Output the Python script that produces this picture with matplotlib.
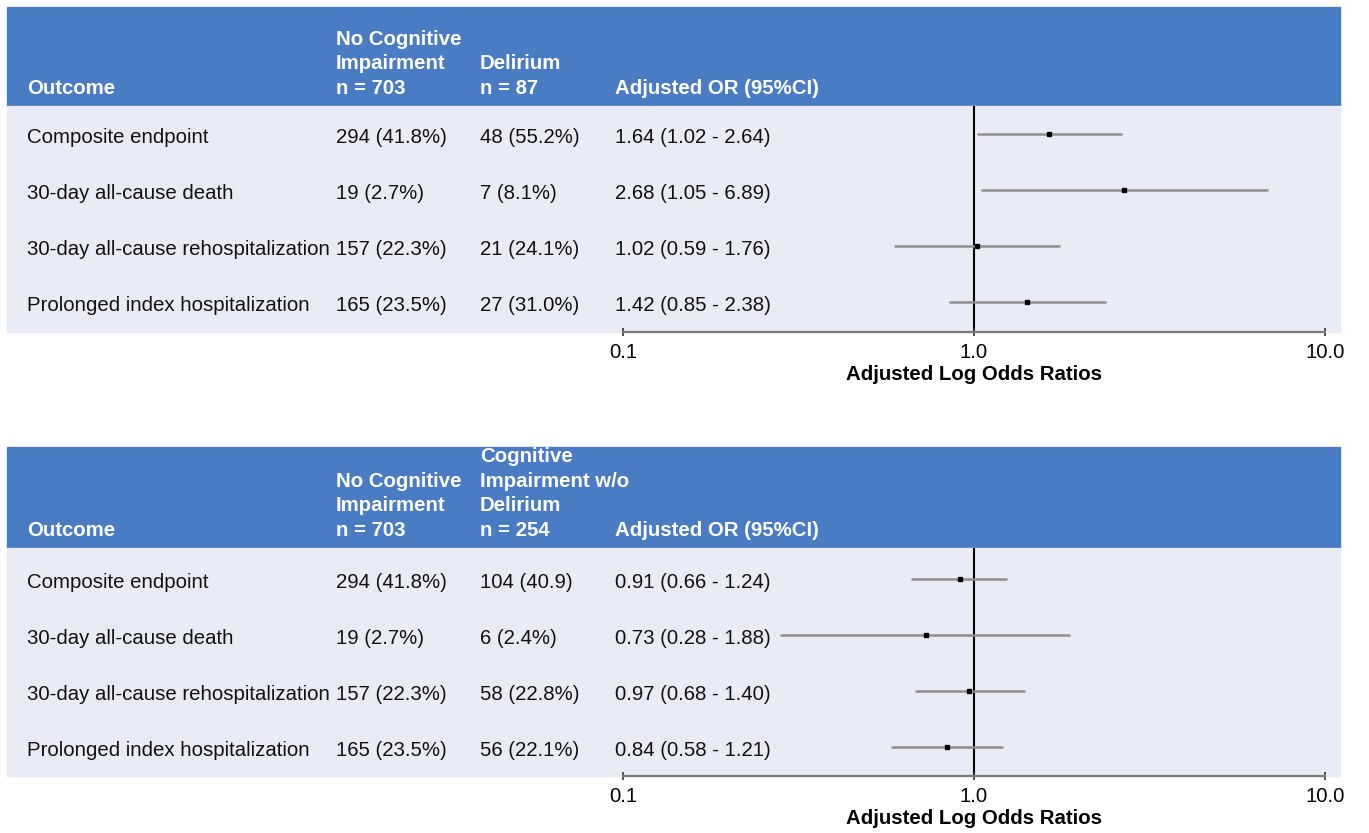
import matplotlib
matplotlib.use("Agg")
import matplotlib.pyplot as plt
from matplotlib.patches import Rectangle
from matplotlib import transforms

plt.rcParams['font.family'] = ['Liberation Sans', 'DejaVu Sans']

# --- data ---
outcomes = ["Composite endpoint", "30-day all-cause death",
            "30-day all-cause rehospitalization", "Prolonged index hospitalization"]
no_ci_counts = ["294 (41.8%)", "19 (2.7%)", "157 (22.3%)", "165 (23.5%)"]

delirium_counts = ["48 (55.2%)", "7 (8.1%)", "21 (24.1%)", "27 (31.0%)"]
delirium_or = [1.64, 2.68, 1.02, 1.42]
delirium_lo = [1.02, 1.05, 0.59, 0.85]
delirium_hi = [2.64, 6.89, 1.76, 2.38]

cog_counts = ["104 (40.9)", "6 (2.4%)", "58 (22.8%)", "56 (22.1%)"]
cog_or = [0.91, 0.73, 0.97, 0.84]
cog_lo = [0.66, 0.28, 0.68, 0.58]
cog_hi = [1.24, 1.88, 1.40, 1.21]

headers_top = ["Outcome", "No Cognitive\nImpairment\nn = 703", "Delirium\nn = 87", "Adjusted OR (95%CI)"]
headers_bot = ["Outcome", "No Cognitive\nImpairment\nn = 703", "Cognitive\nImpairment w/o\nDelirium\nn = 254",
               "Adjusted OR (95%CI)"]

W, H = 1369, 833
HEADER_BLUE = "#4a7cc4"
BODY_BG = "#e9ecf6"
CI_GRAY = "#909090"
FS = 14.7

fig = plt.figure(figsize=(W / 100, H / 100), dpi=100)


def fx(x):
    return x / W


def fy(y):
    return 1 - y / H


col_x = [27, 336, 480, 615]


def draw_panel(head_top, body_top, axis_y, row0, row_step, headers, counts, ors, los, his):
    # header band and body background
    fig.patches.append(Rectangle((fx(7), fy(body_top)), fx(1340) - fx(7), (body_top - head_top) / H,
                                 transform=fig.transFigure, color=HEADER_BLUE, zorder=-2))
    fig.patches.append(Rectangle((fx(7), fy(axis_y)), fx(1340) - fx(7), (axis_y - body_top) / H,
                                 transform=fig.transFigure, color=BODY_BG, zorder=-2))

    # header text, bottom-aligned lines
    last_y = body_top - 18
    for x, h in zip(col_x, headers):
        lines = h.split("\n")
        for k, line in enumerate(reversed(lines)):
            fig.text(fx(x), fy(last_y - k * 24.4), line, color="white", fontweight="bold",
                     fontsize=FS, va="center", ha="left")

    ax = fig.add_axes([fx(623), fy(axis_y), (1325 - 623) / W, (axis_y - body_top) / H])
    ax.set_facecolor("none")
    ax.set_xscale("log")
    ax.set_xlim(0.1, 10)
    top = -(row0 - body_top) / row_step
    ax.set_ylim(top + (axis_y - body_top) / row_step, top)
    ys = list(range(len(ors)))

    ax.axvline(1, color="black", lw=1.5, zorder=1)
    ax.hlines(ys, los, his, color=CI_GRAY, lw=1.8, zorder=2)
    ax.plot(ors, ys, "s", color="black", ms=3, zorder=3)

    for s in ("top", "left", "right"):
        ax.spines[s].set_visible(False)
    ax.spines["bottom"].set_color("#7a7a7a")
    ax.spines["bottom"].set_linewidth(1.6)
    ax.set_yticks([])
    ax.set_xticks([0.1, 1, 10])
    ax.set_xticklabels(["0.1", "1.0", "10.0"])
    ax.minorticks_off()
    ax.tick_params(axis="x", direction="inout", length=6, width=1.2, color="#333333",
                   labelsize=FS, pad=5)
    ax.set_xlabel("Adjusted Log Odds Ratios", fontsize=FS, fontweight="bold", labelpad=2)

    # table rows aligned with the forest plot rows
    tr = transforms.blended_transform_factory(fig.transFigure, ax.transData)
    tr = transforms.offset_copy(tr, fig=fig, x=0, y=-2.5, units="points")
    for i, y in enumerate(ys):
        row = [outcomes[i], no_ci_counts[i], counts[i],
               f"{ors[i]:.2f} ({los[i]:.2f} - {his[i]:.2f})"]
        for x, t in zip(col_x, row):
            fig.text(fx(x), y, t, transform=tr, fontsize=FS, va="center", ha="left",
                     color="#111111", clip_on=False)


draw_panel(7, 106, 332, 134, 56, headers_top, delirium_counts, delirium_or, delirium_lo, delirium_hi)
draw_panel(447, 548, 776, 579, 56, headers_bot, cog_counts, cog_or, cog_lo, cog_hi)

fig.savefig("out.png", dpi=100)
